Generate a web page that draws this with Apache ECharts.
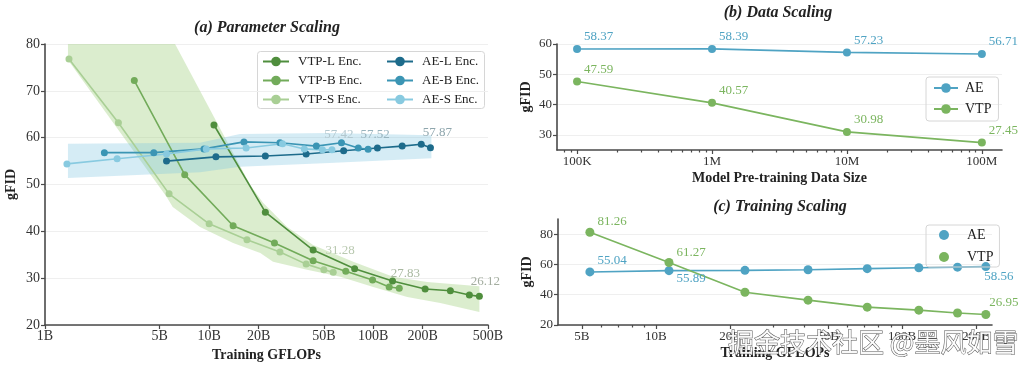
<!DOCTYPE html>
<html><head><meta charset="utf-8">
<script src="https://cdn.jsdelivr.net/npm/echarts@6/dist/echarts.min.js"></script>
<style>html,body{margin:0;padding:0;background:#fff}#c{width:1024px;height:368px}</style>
</head><body><div id="c"></div>
<script>
// ===== data =====
// (a) Parameter scaling — x in billions of training GFLOPs
const aTickValues = [1, 5, 10, 20, 50, 100, 200, 500];
const aTickLabels = ['1B', '5B', '10B', '20B', '50B', '100B', '200B', '500B'];
const vtpLX = [10.7, 22, 43, 77, 131, 207, 295, 385, 443];
const vtpLY = [62.7, 44.1, 36.0, 32.0, 29.4, 27.7, 27.3, 26.4, 26.12];
const vtpBX = [3.5, 7.1, 14, 25, 43, 68, 99, 125, 144];
const vtpBY = [72.2, 52.1, 41.2, 37.5, 33.7, 31.5, 29.6, 28.1, 27.83];
const vtpSX = [1.4, 2.8, 5.7, 10, 17, 27, 39, 50, 57];
const vtpSY = [76.8, 63.2, 48.0, 41.6, 38.2, 35.6, 33.0, 31.8, 31.28];
const aeLX = [5.5, 11, 22, 39, 66, 106, 150, 196, 223];
const aeLY = [55.0, 55.9, 56.1, 56.5, 57.2, 57.8, 58.2, 58.6, 57.87];
const aeBX = [2.3, 4.6, 9.3, 16.3, 27, 45, 64, 81, 93];
const aeBY = [56.8, 56.8, 57.6, 59.1, 58.9, 58.2, 58.9, 57.8, 57.52];
const aeSX = [1.36, 2.75, 5.5, 9.6, 16.8, 28, 38, 49, 56];
const aeSY = [54.4, 55.5, 56.5, 57.6, 57.8, 58.7, 57.6, 57.4, 57.42];
// shaded bands
const greenUpperX = [1.38, 6.2, 17.8, 21.3, 29.9, 43, 75.5, 132, 213, 443];
const greenUpperY = [80, 80, 49.9, 46.1, 40.9, 37.1, 33.5, 30.3, 29.2, 28.3];
const greenLowerX = [1.38, 5.5, 6.0, 8.8, 14, 20.5, 24.5, 39.5, 63, 100, 161, 256, 443];
const greenLowerY = [76.6, 47.4, 45.2, 40.9, 37.5, 35.4, 33.5, 31.8, 30.3, 28.1, 26.0, 24.7, 22.8];
const blueBandX = [1.38, 8.8, 15.4, 54, 226];
const blueUpperY = [58.7, 58.9, 60.8, 61.0, 60.5];
const blueLowerY = [51.4, 52.6, 53.8, 54.6, 55.6];

// (b) Data scaling
const bX = [1e5, 1e6, 1e7, 1e8];
const bTickLabels = ['100K', '1M', '10M', '100M'];
const bAE = [58.37, 58.39, 57.23, 56.71];
const bVTP = [47.59, 40.57, 30.98, 27.45];

// (c) Training scaling — x in billions
const cX = [5.39, 11.3, 23.0, 41.5, 72.2, 117, 168, 219];
const cAE = [55.04, 55.89, 56.1, 56.5, 57.2, 57.8, 58.2, 58.56];
const cVTP = [81.26, 61.27, 41.6, 36.4, 31.8, 29.8, 27.9, 26.95];
const cTickValues = [5, 10, 20, 50, 100, 200];
const cTickLabels = ['5B', '10B', '20B', '50B', '100B', '200B'];

// ===== helpers =====
const lg = Math.log10;
const SERIF = "'Liberation Serif','DejaVu Serif',serif";
const C = {
  vtpL: '#4f8e3d', vtpB: '#72ab5a', vtpS: '#a9cf95',
  aeL: '#1d6b8b', aeB: '#3b95b4', aeS: '#88cae0',
  ae: '#4fa3c3', vtp: '#7bb55f'
};
function pts(xs, ys) { return xs.map((x, i) => [lg(x), ys[i]]); }
function fmt(vals, labels) {
  return v => { let bi = 0, bd = 1e9; vals.forEach((t, i) => { const d = Math.abs(lg(t) - v); if (d < bd) { bd = d; bi = i; } }); return labels[bi]; };
}
function minorTicks(lo, hi, majors) {
  const out = [];
  for (let d = Math.floor(lg(lo)); d <= Math.ceil(lg(hi)); d++) {
    for (let k = 1; k <= 9; k++) {
      const v = k * Math.pow(10, d);
      if (v > lo * 1.0001 && v < hi * 0.9999 && !majors.some(m => Math.abs(m - v) / m < 1e-6)) out.push(lg(v));
    }
  }
  return out;
}
const aXMin = 1, aXMax = 500;
const bXMin = 7.1e4, bXMax = 1.41e8;
const cXMin = 4, cXMax = 232;

function axisLineStyle() { return { show: true, lineStyle: { color: '#4a4a4a', width: 1.6 } }; }
function tickStyle(len) { return { show: true, inside: false, length: len, lineStyle: { color: '#4a4a4a', width: 1.2 } }; }

function lastLabel(xs, ys, color, offset) {
  const d = pts(xs, ys);
  const n = d.length - 1;
  d[n] = { value: d[n], label: { show: true, position: 'top', distance: 4, offset: offset, color: color,
    fontFamily: SERIF, fontSize: 13, formatter: p => p.value[1].toFixed(2) } };
  return d;
}
function aLine(name, xs, ys, color, labelColor, offset) {
  return { type: 'line', name: name, xAxisIndex: 0, yAxisIndex: 0, data: lastLabel(xs, ys, labelColor, offset),
    symbol: 'circle', symbolSize: 7, lineStyle: { color: color, width: 1.6 }, itemStyle: { color: color },
    z: 3, silent: true };
}
function band(upX, upY, loX, loY, fill) {
  const poly = pts(upX, upY).concat(pts(loX, loY).reverse());
  return { type: 'custom', xAxisIndex: 0, yAxisIndex: 0, data: [[poly[0][0], poly[0][1]]], z: 1, silent: true,
    renderItem: (params, api) => ({ type: 'polygon', shape: { points: poly.map(p => api.coord(p)) }, style: { fill: fill } }) };
}
function labeled(xs, ys, color, specs) {
  const d = pts(xs, ys);
  Object.keys(specs).forEach(k => {
    d[k] = { value: d[k], label: Object.assign({ show: true, position: 'right', distance: 3, color: color,
      fontFamily: SERIF, fontSize: 13, formatter: p => p.value[1].toFixed(2) }, specs[k]) };
  });
  return d;
}
function allSpecs(n, spec) { const o = {}; for (let i = 0; i < n; i++) o[i] = spec; return o; }

const chart = echarts.init(document.getElementById('c'), null, { renderer: 'canvas' });
const option = {
  animation: false,
  backgroundColor: '#fff',
  grid: [
    { left: 45, top: 44, width: 443, height: 281 },
    { left: 557, top: 44, width: 445, height: 106 },
    { left: 558, top: 219, width: 434, height: 106 }
  ],
  xAxis: [
    { gridIndex: 0, type: 'value', position: 'bottom', min: lg(aXMin), max: lg(aXMax), axisLine: axisLineStyle(),
      axisTick: Object.assign(tickStyle(4), { customValues: aTickValues.map(lg) }),
      axisLabel: { customValues: aTickValues.map(lg), formatter: fmt(aTickValues, aTickLabels), fontFamily: SERIF, fontSize: 14, color: '#333', margin: 4 },
      splitLine: { show: false }, name: 'Training GFLOPs', nameLocation: 'middle', nameGap: 21,
      nameTextStyle: { fontFamily: SERIF, fontWeight: 'bold', fontSize: 14, color: '#222' } },
    { gridIndex: 1, type: 'value', position: 'bottom', min: lg(bXMin), max: lg(bXMax), axisLine: axisLineStyle(),
      axisTick: Object.assign(tickStyle(4), { customValues: bX.map(lg) }),
      axisLabel: { customValues: bX.map(lg), formatter: fmt(bX, bTickLabels), fontFamily: SERIF, fontSize: 13, color: '#333', margin: 5 },
      splitLine: { show: false }, name: 'Model Pre-training Data Size', nameLocation: 'middle', nameGap: 21,
      nameTextStyle: { fontFamily: SERIF, fontWeight: 'bold', fontSize: 14, color: '#222' } },
    { gridIndex: 1, type: 'value', position: 'bottom', offset: 0, min: lg(bXMin), max: lg(bXMax), axisLine: { show: false },
      axisTick: Object.assign(tickStyle(2.5), { customValues: minorTicks(bXMin, bXMax, bX) }),
      axisLabel: { show: false }, splitLine: { show: false } },
    { gridIndex: 2, type: 'value', position: 'bottom', min: lg(cXMin), max: lg(cXMax), axisLine: axisLineStyle(),
      axisTick: Object.assign(tickStyle(4), { customValues: cTickValues.map(lg) }),
      axisLabel: { customValues: cTickValues.map(lg), formatter: fmt(cTickValues, cTickLabels), fontFamily: SERIF, fontSize: 13, color: '#333', margin: 5 },
      splitLine: { show: false }, name: 'Training GFLOPs', nameLocation: 'middle', nameGap: 21,
      nameTextStyle: { fontFamily: SERIF, fontWeight: 'bold', fontSize: 14, color: '#222' } },
    { gridIndex: 2, type: 'value', position: 'bottom', offset: 0, min: lg(cXMin), max: lg(cXMax), axisLine: { show: false },
      axisTick: Object.assign(tickStyle(2.5), { customValues: minorTicks(cXMin, cXMax, cTickValues) }),
      axisLabel: { show: false }, splitLine: { show: false } }
  ],
  yAxis: [
    { gridIndex: 0, type: 'value', min: 20, max: 80, interval: 10, axisLine: axisLineStyle(), axisTick: tickStyle(4),
      axisLabel: { fontFamily: SERIF, fontSize: 14, color: '#333', margin: 5 },
      splitLine: { show: true, lineStyle: { color: '#efefef', width: 1 } },
      name: 'gFID', nameLocation: 'middle', nameGap: 27,
      nameTextStyle: { fontFamily: SERIF, fontWeight: 'bold', fontSize: 14, color: '#222' } },
    { gridIndex: 1, type: 'value', min: 25, max: 60, axisLine: axisLineStyle(), axisTick: tickStyle(4),
      axisLabel: { fontFamily: SERIF, fontSize: 13, color: '#333', margin: 5, showMinLabel: false },
      splitLine: { show: true, showMinLine: false, lineStyle: { color: '#efefef', width: 1 } },
      name: 'gFID', nameLocation: 'middle', nameGap: 24,
      nameTextStyle: { fontFamily: SERIF, fontWeight: 'bold', fontSize: 14, color: '#222' } },
    { gridIndex: 2, type: 'value', min: 20, max: 90, interval: 20, axisLine: axisLineStyle(), axisTick: tickStyle(4),
      axisLabel: { fontFamily: SERIF, fontSize: 13, color: '#333', margin: 5, showMaxLabel: false },
      splitLine: { show: true, showMaxLine: false, lineStyle: { color: '#efefef', width: 1 } },
      name: 'gFID', nameLocation: 'middle', nameGap: 24,
      nameTextStyle: { fontFamily: SERIF, fontWeight: 'bold', fontSize: 14, color: '#222' } }
  ],
  legend: [
    { orient: 'vertical', left: 257, top: 50, itemWidth: 26, itemHeight: 12, itemGap: 6, selectedMode: false,
      data: ['VTP-L Enc.', 'VTP-B Enc.', 'VTP-S Enc.'],
      textStyle: { fontFamily: SERIF, fontSize: 13, color: '#222', padding: [0, 0, 0, 4] } },
    { orient: 'vertical', left: 381, top: 50, itemWidth: 26, itemHeight: 12, itemGap: 6, selectedMode: false,
      data: ['AE-L Enc.', 'AE-B Enc.', 'AE-S Enc.'],
      textStyle: { fontFamily: SERIF, fontSize: 13, color: '#222', padding: [0, 0, 0, 4] } },
    { orient: 'vertical', left: 926, top: 77, itemWidth: 24, itemHeight: 12, itemGap: 7, selectedMode: false,
      padding: [4, 7, 5, 7], borderColor: '#d6d6d6', borderWidth: 1, borderRadius: 3,
      data: ['AE', 'VTP'], textStyle: { fontFamily: SERIF, fontSize: 14, color: '#222', padding: [0, 0, 0, 2] } },
    { orient: 'vertical', left: 926, top: 225, itemWidth: 10, itemHeight: 10, itemGap: 8, selectedMode: false,
      padding: [3, 6, 3, 13], borderColor: '#d6d6d6', borderWidth: 1, borderRadius: 3,
      data: [{ name: 'AE', icon: 'circle' }, { name: 'VTP', icon: 'circle' }],
      textStyle: { fontFamily: SERIF, fontSize: 14, color: '#222', padding: [0, 0, 0, 13] } }
  ],
  graphic: [
    { type: 'rect', left: 257, top: 51, z: 0, shape: { width: 227, height: 57, r: 3 },
      style: { fill: 'rgba(255,255,255,0.85)', stroke: '#d6d6d6', lineWidth: 1 } },
    { type: 'text', x: 267, y: 28, style: { text: '(a) Parameter Scaling', x: 0, y: 0, align: 'center', verticalAlign: 'middle',
      font: 'italic bold 16px ' + SERIF, fill: '#222' } },
    { type: 'text', x: 778, y: 13, style: { text: '(b) Data Scaling', align: 'center', verticalAlign: 'middle',
      font: 'italic bold 16px ' + SERIF, fill: '#222' } },
    { type: 'text', x: 780, y: 207, style: { text: '(c) Training Scaling', align: 'center', verticalAlign: 'middle',
      font: 'italic bold 16px ' + SERIF, fill: '#222' } },
    { type: 'text', x: 728, y: 342, z: 100, style: { text: '掘金技术社区 @墨风如雪', align: 'left', verticalAlign: 'middle',
      font: '26px "Noto Sans CJK SC"', fill: 'rgba(255,255,255,0.92)', stroke: '#555', lineWidth: 1 } }
  ],
  series: [
    band(greenUpperX, greenUpperY, greenLowerX, greenLowerY, 'rgba(160,208,125,0.38)'),
    band(blueBandX, blueUpperY, blueBandX, blueLowerY, 'rgba(125,195,225,0.32)'),
    aLine('VTP-L Enc.', vtpLX, vtpLY, C.vtpL, '#a3ad9f', [6, -1]),
    aLine('VTP-B Enc.', vtpBX, vtpBY, C.vtpB, '#a8b8a0', [6, -1]),
    aLine('VTP-S Enc.', vtpSX, vtpSY, C.vtpS, '#b9c9b0', [7, -8]),
    aLine('AE-L Enc.', aeLX, aeLY, C.aeL, '#8fa6ad', [7, -1]),
    aLine('AE-B Enc.', aeBX, aeBY, C.aeB, '#97b3bd', [7, -1]),
    aLine('AE-S Enc.', aeSX, aeSY, C.aeS, '#b3c8cf', [7, -1]),
    { type: 'line', name: 'AE', xAxisIndex: 1, yAxisIndex: 1, symbol: 'circle', symbolSize: 8,
      data: labeled(bX, bAE, C.ae, allSpecs(bAE.length, { offset: [0, -12] })),
      lineStyle: { color: C.ae, width: 1.6 }, itemStyle: { color: C.ae }, z: 3, silent: true },
    { type: 'line', name: 'VTP', xAxisIndex: 1, yAxisIndex: 1, symbol: 'circle', symbolSize: 8,
      data: labeled(bX, bVTP, C.vtp, allSpecs(bVTP.length, { offset: [0, -12] })),
      lineStyle: { color: C.vtp, width: 1.6 }, itemStyle: { color: C.vtp }, z: 3, silent: true },
    { type: 'line', name: 'AE', xAxisIndex: 3, yAxisIndex: 2, symbol: 'circle', symbolSize: 9,
      data: labeled(cX, cAE, C.ae, { 0: { offset: [0, -11] }, 1: { offset: [0, 8] }, 7: { offset: [-9, 10] } }),
      lineStyle: { color: C.ae, width: 1.6 }, itemStyle: { color: C.ae }, z: 3, silent: true },
    { type: 'line', name: 'VTP', xAxisIndex: 3, yAxisIndex: 2, symbol: 'circle', symbolSize: 9,
      data: labeled(cX, cVTP, C.vtp, { 0: { offset: [0, -11] }, 1: { offset: [0, -10] }, 7: { offset: [-4, -12] } }),
      lineStyle: { color: C.vtp, width: 1.6 }, itemStyle: { color: C.vtp }, z: 3, silent: true }
  ]
};
chart.setOption(option);
</script>
</body></html>
